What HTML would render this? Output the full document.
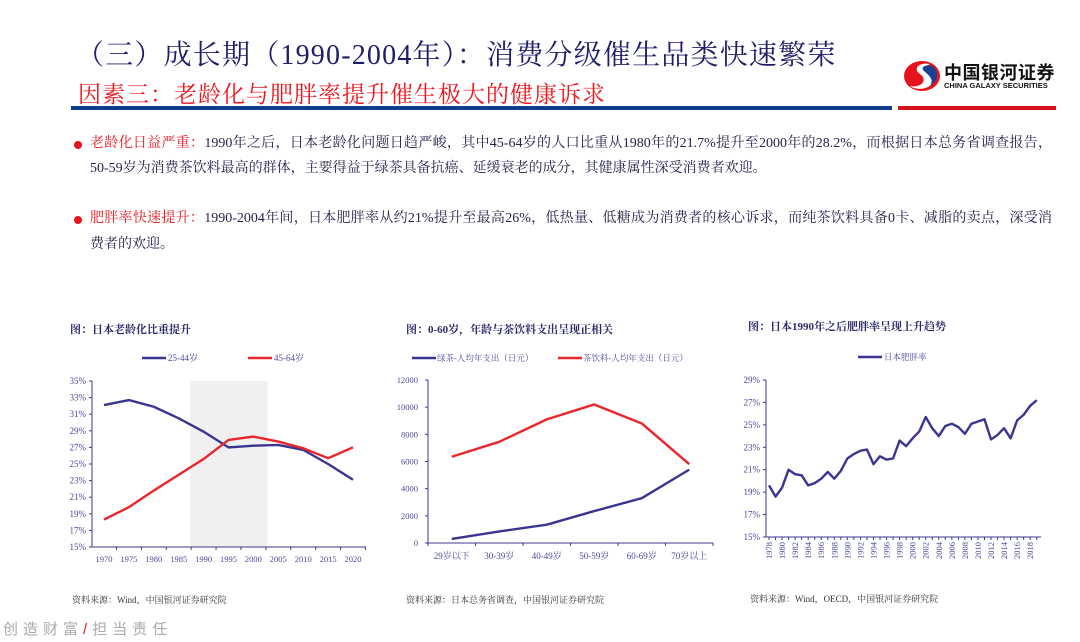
<!DOCTYPE html>
<html><head><meta charset="utf-8">
<style>
*{margin:0;padding:0;box-sizing:border-box}
body{width:1080px;height:642px;background:#fff;position:relative;overflow:hidden;font-family:"Liberation Serif","Noto Serif CJK SC",serif;color:#222250}
.abs{position:absolute}
.ln{position:absolute;left:90px;width:962px;font-size:14px;text-align:justify;text-align-last:justify;white-space:nowrap;line-height:20px;color:#23234f}
.red{color:#e8141c}
.dot{position:absolute;width:8px;height:8px;border-radius:50%;background:#e8141c}
svg text{font-family:"Liberation Serif","Noto Serif CJK SC",serif}
</style></head><body>
<div class="abs" style="left:76px;top:33px;font-size:28px;letter-spacing:1.2px;color:#1d1d6b;white-space:nowrap">（三）成长期（1990-2004年）：消费分级催生品类快速繁荣</div>
<div class="abs" style="left:78px;top:76px;font-size:23px;letter-spacing:1px;color:#f0141c;white-space:nowrap">因素三：老龄化与肥胖率提升催生极大的健康诉求</div>
<div class="abs" style="left:71px;top:106px;width:821px;height:4px;background:#0e3d8c"></div>
<div class="abs" style="left:898px;top:106px;width:158px;height:4px;background:#d6121c"></div>
<div class="abs" style="left:900px;top:56px;width:160px;height:40px">
<svg width="40" height="36" viewBox="0 0 40 36" style="position:absolute;left:2px;top:2px">
<ellipse cx="20" cy="18" rx="18" ry="15" fill="#e3141c"/>
<path d="M28 6 C18 4 10 10 18 16 C26 22 20 30 8 28 C16 34 34 30 30 20 C28 14 18 12 24 8Z" fill="#fff"/>
<path d="M30 8 C24 6 18 9 22 13 C28 18 32 22 28 28 C36 24 38 12 30 8Z" fill="#1b3f95"/>
</svg>
<div style="position:absolute;left:44px;top:3px;font-family:'Liberation Sans','Noto Sans CJK SC',sans-serif;font-weight:bold;font-size:18px;color:#111;white-space:nowrap;letter-spacing:0.5px">中国银河证券</div>
<div style="position:absolute;left:44px;top:25px;font-family:'Liberation Sans',sans-serif;font-weight:bold;font-size:7.5px;color:#111;white-space:nowrap">CHINA GALAXY SECURITIES</div>
</div>

<div class="dot" style="left:74px;top:141px"></div>
<div class="ln" style="top:134px"><span class="red">老龄化日益严重：</span>1990年之后，日本老龄化问题日趋严峻，其中45-64岁的人口比重从1980年的21.7%提升至2000年的28.2%，而根据日本总务省调查报告，</div>
<div class="abs" style="left:90px;top:159px;font-size:14px;line-height:20px;white-space:nowrap;color:#23234f">50-59岁为消费茶饮料最高的群体，主要得益于绿茶具备抗癌、延缓衰老的成分，其健康属性深受消费者欢迎。</div>
<div class="dot" style="left:74px;top:216px"></div>
<div class="ln" style="top:209px"><span class="red">肥胖率快速提升：</span>1990-2004年间，日本肥胖率从约21%提升至最高26%，低热量、低糖成为消费者的核心诉求，而纯茶饮料具备0卡、减脂的卖点，深受消</div>
<div class="abs" style="left:90px;top:235px;font-size:14px;line-height:20px;white-space:nowrap;color:#23234f">费者的欢迎。</div>

<svg id="charts" class="abs" style="left:0;top:0" width="1080" height="642"></svg>
<div class="abs" style="left:3px;top:618px;font-size:15px;letter-spacing:5px;color:#aaa;font-family:'Liberation Sans','Noto Sans CJK SC',sans-serif;white-space:nowrap">创造财富<span style="color:#e8141c">/</span>担当责任</div>

<script>
// Chart 1
const c1Years=[1970,1975,1980,1985,1990,1995,2000,2005,2010,2015,2020];
const c1Young=[32.1,32.7,31.9,30.5,28.9,27.0,27.2,27.3,26.7,25.0,23.1];
const c1Old=[18.3,19.8,21.8,23.7,25.6,27.9,28.3,27.7,26.9,25.7,27.0];
const c1Ticks=[15,17,19,21,23,25,27,29,31,33,35];
const c1Band=[1987.3,2002.8];
// Chart 2
const c2Cats=["29岁以下","30-39岁","40-49岁","50-59岁","60-69岁","70岁以上"];
const c2Green=[300,850,1350,2350,3300,5400];
const c2Drink=[6350,7450,9100,10200,8800,5800];
const c2Ticks=[0,2000,4000,6000,8000,10000,12000];
// Chart 3
const c3Years=[];for(let y=1978;y<=2019;y++)c3Years.push(y);
const c3Obese=[19.6,18.6,19.4,21.0,20.6,20.5,19.6,19.8,20.2,20.8,20.2,20.9,22.0,22.4,22.7,22.8,21.5,22.2,21.9,22.0,23.6,23.1,23.8,24.4,25.7,24.7,24.0,24.9,25.1,24.8,24.2,25.1,25.3,25.5,23.7,24.1,24.7,23.8,25.4,25.9,26.7,27.2];
const c3Ticks=[15,17,19,21,23,25,27,29];

const NS="http://www.w3.org/2000/svg";
const svg=document.getElementById('charts');
const AX="#3b3a8c",BLUE="#3b3592",RED="#e8262c",TXT="#4a4a9a";
function el(tag,attrs,parent){const e=document.createElementNS(NS,tag);for(const k in attrs)e.setAttribute(k,attrs[k]);(parent||svg).appendChild(e);return e;}
function txt(s,x,y,attrs,parent){const t=el('text',Object.assign({x:x,y:y,'font-size':9,fill:TXT},attrs||{}),parent);t.textContent=s;return t;}
function poly(pts,color,name){const p=el('polyline',{points:pts.map(p=>p.join(',')).join(' '),fill:'none',stroke:color,'stroke-width':2.4,'stroke-linejoin':'round'});return p;}

// ---------- Chart 1
(function(){
 const g=el('g',{});
 const x0=92,x1=366,yT=381,yB=547;
 const xs=y=>104+(y-1970)/50*(353-104);
 const ys=v=>yB-(v-15)/20*(yB-yT);
 const t=txt('图：日本老龄化比重提升',70,333,{'font-size':11,'font-weight':'bold',fill:'#2a2a6a'},g);
 const b=el('rect',{x:xs(c1Band[0]),y:yT,width:xs(c1Band[1])-xs(c1Band[0]),height:yB-yT,fill:'#f0f0f0'},g);
 el('line',{x1:x0,y1:yT,x2:x0,y2:yB,stroke:AX},g);el('line',{x1:x0,y1:yB,x2:x1,y2:yB,stroke:AX},g);
 c1Ticks.forEach(v=>{el('line',{x1:x0-3,y1:ys(v),x2:x0,y2:ys(v),stroke:AX},g);const l=txt(v+'%',x0-6,ys(v)+3,{'text-anchor':'end'},g);});
 c1Years.forEach((y,i)=>{const tx=xs(y)+12.45;el('line',{x1:tx,y1:yB,x2:tx,y2:yB+3,stroke:AX},g);const l=txt(y,xs(y),yB+15,{'text-anchor':'middle','font-size':8.5},g);});
 g.appendChild(poly(c1Years.map((y,i)=>[xs(y),ys(c1Young[i])]),BLUE,'series-25-44'));
 g.appendChild(poly(c1Years.map((y,i)=>[xs(y),ys(c1Old[i])]),RED,'series-45-64'));
 el('line',{x1:142,y1:358,x2:166,y2:358,stroke:BLUE,'stroke-width':2.6},g);txt('25-44岁',168,361,{},g);
 el('line',{x1:248,y1:358,x2:272,y2:358,stroke:RED,'stroke-width':2.6},g);txt('45-64岁',274,361,{},g);
 txt('资料来源：Wind，中国银河证券研究院',72,603,{'font-size':9,fill:'#333'},g);
})();

// ---------- Chart 2
(function(){
 const g=el('g',{});
 const x0=428,x1=713,yT=380,yB=543,step=(x1-x0)/c2Cats.length;
 const xs=i=>x0+step*(i+0.5);
 const ys=v=>yB-v/12000*(yB-yT);
 const t=txt('图：0-60岁，年龄与茶饮料支出呈现正相关',406,333,{'font-size':11,'font-weight':'bold',fill:'#2a2a6a'},g);
 el('line',{x1:x0,y1:yT,x2:x0,y2:yB,stroke:AX},g);el('line',{x1:x0,y1:yB,x2:x1,y2:yB,stroke:AX},g);
 c2Ticks.forEach(v=>{el('line',{x1:x0-3,y1:ys(v),x2:x0,y2:ys(v),stroke:AX},g);txt(v,x0-10,ys(v)+3,{'text-anchor':'end','font-size':8.5},g);});
 for(let i=0;i<=c2Cats.length;i++){el('line',{x1:x0+step*i,y1:yB,x2:x0+step*i,y2:yB+3,stroke:AX},g);}
 c2Cats.forEach((c,i)=>{txt(c,xs(i),yB+16,{'text-anchor':'middle','font-size':9},g);});
 g.appendChild(poly(c2Green.map((v,i)=>[xs(i),ys(v)]),BLUE,'series-green-tea'));
 g.appendChild(poly(c2Drink.map((v,i)=>[xs(i),ys(v)]),RED,'series-tea-drink'));
 el('line',{x1:412,y1:358,x2:436,y2:358,stroke:BLUE,'stroke-width':2.6},g);txt('绿茶-人均年支出（日元）',437,361,{'font-size':8.5},g);
 el('line',{x1:558,y1:358,x2:582,y2:358,stroke:RED,'stroke-width':2.6},g);txt('茶饮料-人均年支出（日元）',583,361,{'font-size':8.5},g);
 txt('资料来源：日本总务省调查，中国银河证券研究院',406,603,{'font-size':9,fill:'#333'},g);
})();

// ---------- Chart 3
(function(){
 const g=el('g',{});
 const x0=766,x1=1041,yT=380,yB=537;
 const xs=y=>769+(y-1978)*6.53;
 const ys=v=>yB-(v-15)/14*(yB-yT);
 const t=txt('图：日本1990年之后肥胖率呈现上升趋势',748,330,{'font-size':11,'font-weight':'bold',fill:'#2a2a6a'},g);
 el('line',{x1:x0,y1:yT,x2:x0,y2:yB,stroke:AX},g);el('line',{x1:x0,y1:yB,x2:x1,y2:yB,stroke:AX},g);
 c3Ticks.forEach(v=>{el('line',{x1:x0-3,y1:ys(v),x2:x0,y2:ys(v),stroke:AX},g);txt(v+'%',x0-6,ys(v)+3,{'text-anchor':'end'},g);});
 c3Years.forEach((y,i)=>{el('line',{x1:xs(y),y1:yB,x2:xs(y),y2:yB+3,stroke:AX},g);
   if(i%2===0){const l=txt(y,0,0,{'text-anchor':'end','font-size':8.5,transform:`translate(${xs(y)+3},${yB+5}) rotate(-90)`},g);}});
 g.appendChild(poly(c3Years.map((y,i)=>[xs(y),ys(c3Obese[i])]),BLUE,'series-obesity-rate'));
 el('line',{x1:858,y1:357,x2:882,y2:357,stroke:BLUE,'stroke-width':2.6},g);txt('日本肥胖率',884,360,{'font-size':8.5},g);
 txt('资料来源：Wind，OECD，中国银河证券研究院',750,602,{'font-size':9,fill:'#333'},g);
})();
</script>
</body></html>
